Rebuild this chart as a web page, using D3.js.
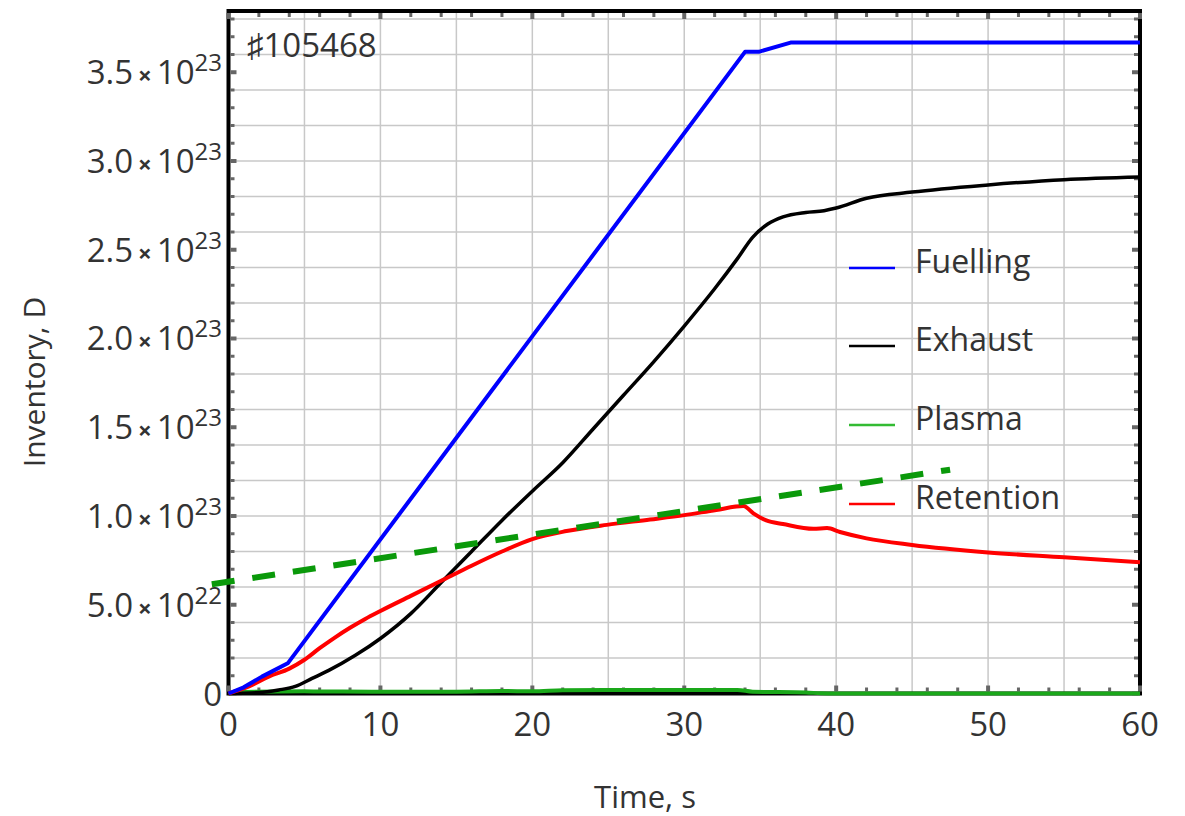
<!DOCTYPE html>
<html><head><meta charset="utf-8">
<script src="https://cdn.jsdelivr.net/npm/d3@7"></script>
<style>html,body{margin:0;padding:0;background:#fff;}svg{display:block;}</style>
</head><body>
<svg id="chart" width="1185" height="816"></svg>
<script>
// ---- data (inventory values in units of 1e23 D) ----
const fuelT = [0, 1, 2.2, 3.9, 34.0, 34.9, 37.0, 60];
const fuelV = [0, 0.035, 0.095, 0.17, 3.615, 3.615, 3.667, 3.667];

const exhT = [0, 2, 3.3, 4.4, 5.5, 6.6, 8.35, 10, 12, 14, 16, 18, 20, 22, 24, 26, 28, 30, 32, 33.5, 34.5, 35.5, 36.5, 38, 39.2, 40, 42, 45, 50, 55, 60];
const exhV = [0, 0.005, 0.02, 0.04, 0.085, 0.13, 0.215, 0.31, 0.45, 0.625, 0.80, 0.975, 1.14, 1.30, 1.49, 1.68, 1.87, 2.07, 2.28, 2.45, 2.57, 2.645, 2.685, 2.71, 2.72, 2.735, 2.79, 2.825, 2.865, 2.895, 2.91];

const retT = [0, 1.35, 2.65, 4, 5, 6, 7, 8, 9, 10, 12, 14, 16, 18, 20, 22.25, 24.9, 27.75, 30, 32.1, 33.9, 34.55, 35.4, 36.5, 38.5, 39.4, 40.25, 42, 45, 50, 55, 60];
const retV = [0, 0.04, 0.095, 0.14, 0.19, 0.255, 0.315, 0.37, 0.42, 0.465, 0.55, 0.635, 0.72, 0.80, 0.87, 0.915, 0.95, 0.98, 1.005, 1.034, 1.056, 1.015, 0.975, 0.955, 0.928, 0.932, 0.91, 0.874, 0.837, 0.795, 0.767, 0.739];

const plaT = [0, 1, 5, 10, 15, 18, 20, 22, 25, 30, 33.5, 34.5, 38, 39, 40, 60];
const plaV = [0, 0.008, 0.012, 0.01, 0.01, 0.014, 0.012, 0.018, 0.02, 0.02, 0.02, 0.01, 0.006, 0.001, 0, 0];

const fitT = [-1.1, 47.5];
const fitV = [0.615, 1.261];

const xTicks = [0, 10, 20, 30, 40, 50, 60];
const yTicks = [0, 0.5, 1.0, 1.5, 2.0, 2.5, 3.0, 3.5];
const yTickMant = ["0", "5.0", "1.0", "1.5", "2.0", "2.5", "3.0", "3.5"];
const yTickExp = ["", "22", "23", "23", "23", "23", "23", "23"];

const legendNames = ["Fuelling", "Exhaust", "Plasma", "Retention"];
const legendColors = ["#0000ff", "#000000", "#33bb33", "#ff0000"];

const shotLabel = "\u266F105468";
const xTitle = "Time, s";
const yTitle = "Inventory, D";

// ---- layout ----
const L = 228.5, R = 1140, T = 11, B = 693.5;
const svg = d3.select("#chart");
const x = d3.scaleLinear().domain([0, 60]).range([L, R]);
const y = d3.scaleLinear().domain([0, 3.845]).range([B, T]);
const font = "'Open Sans', 'Noto Sans', sans-serif";
const txt = "#333";

// grid
const g = svg.append("g");
g.selectAll(".vg").data(d3.range(5, 60, 5)).join("line")
  .attr("x1", d => x(d)).attr("x2", d => x(d)).attr("y1", T).attr("y2", B)
  .attr("stroke", "#c8c8c8").attr("stroke-width", 1.5);
g.selectAll(".hg").data(d3.range(0.2, 3.85, 0.2)).join("line")
  .attr("x1", L).attr("x2", R).attr("y1", d => y(d)).attr("y2", d => y(d))
  .attr("stroke", "#c8c8c8").attr("stroke-width", 1.5);

// frame
svg.append("rect").attr("x", L).attr("y", T).attr("width", R - L).attr("height", B - T)
  .attr("fill", "none").attr("stroke", "#000").attr("stroke-width", 4);

// ticks (inside, all four sides)
const tk = svg.append("g").attr("stroke", "#666");
const xMinor = d3.range(0, 60.01, 2);
xMinor.forEach(v => {
  const maj = Math.abs(v % 10) < 1e-6;
  const len = maj ? 6 : 4, w = maj ? 4 : 3;
  tk.append("line").attr("x1", x(v)).attr("x2", x(v)).attr("y1", B - 2).attr("y2", B - 2 - len).attr("stroke-width", w);
  tk.append("line").attr("x1", x(v)).attr("x2", x(v)).attr("y1", T + 2).attr("y2", T + 2 + len).attr("stroke-width", w);
});
const yMinor = d3.range(0, 3.81, 0.1);
yMinor.forEach(v => {
  const maj = Math.abs((v * 10) % 5) < 1e-6 || Math.abs((v * 10) % 5 - 5) < 1e-6;
  const len = maj ? 6 : 4, w = maj ? 4 : 3;
  tk.append("line").attr("y1", y(v)).attr("y2", y(v)).attr("x1", L + 2).attr("x2", L + 2 + len).attr("stroke-width", w);
  tk.append("line").attr("y1", y(v)).attr("y2", y(v)).attr("x1", R - 2).attr("x2", R - 2 - len).attr("stroke-width", w);
});

// tick labels
svg.selectAll(".xl").data(xTicks).join("text")
  .attr("x", d => x(d)).attr("y", B + 42).attr("text-anchor", "middle")
  .attr("font-family", font).attr("font-size", 33).attr("fill", txt).text(d => d);

yTicks.forEach((v, i) => {
  const t = svg.append("text").attr("x", 222).attr("y", y(v) + 12).attr("text-anchor", "end")
    .attr("font-family", font).attr("font-size", 33).attr("fill", txt);
  if (yTickExp[i] === "") {
    t.text(yTickMant[i]);
  } else {
    t.append("tspan").text(yTickMant[i]);
    t.append("tspan").attr("font-size", 24).attr("font-weight", "bold").attr("dx", 5).text("\u00D7");
    t.append("tspan").attr("dx", 5).text("10");
    t.append("tspan").attr("font-size", 24).attr("dy", -13).text(yTickExp[i]);
  }
});

// axis titles
svg.append("text").attr("x", 645).attr("y", 808).attr("text-anchor", "middle")
  .attr("font-family", font).attr("font-size", 31).attr("fill", txt).text(xTitle);
svg.append("text").attr("transform", "translate(45,382) rotate(-90)").attr("text-anchor", "middle")
  .attr("font-family", font).attr("font-size", 30).attr("fill", txt).text(yTitle);

// shot label
svg.append("text").attr("x", 247).attr("y", 57).attr("font-family", font)
  .attr("font-size", 33).attr("fill", txt).text(shotLabel);

// curves
function draw(ts, vs, color, w, curve, dash) {
  const pts = ts.map((t, i) => [t, vs[i]]);
  const line = d3.line().x(d => x(d[0])).y(d => y(d[1])).curve(curve);
  const p = svg.append("path").attr("d", line(pts)).attr("fill", "none")
    .attr("stroke", color).attr("stroke-width", w).attr("stroke-linejoin", "round");
  if (dash) p.attr("stroke-dasharray", dash);
}
draw(plaT, plaV, "#1aa81a", 4, d3.curveMonotoneX);
draw(exhT, exhV, "#000000", 3.5, d3.curveMonotoneX);
draw(retT, retV, "#ff0000", 4, d3.curveMonotoneX);
draw(fuelT, fuelV, "#0000ff", 4, d3.curveLinear);
draw(fitT, fitV, "#0a990a", 6, d3.curveLinear, "23,18");

// legend
const legY = [268, 346, 425, 504];
legendNames.forEach((n, i) => {
  svg.append("line").attr("x1", 849).attr("x2", 895).attr("y1", legY[i]).attr("y2", legY[i])
    .attr("stroke", legendColors[i]).attr("stroke-width", 2.5);
  svg.append("text").attr("x", 915).attr("y", legY[i] + 5).attr("font-family", font)
    .attr("font-size", 32).attr("fill", txt).text(n);
});
</script>
</body></html>
